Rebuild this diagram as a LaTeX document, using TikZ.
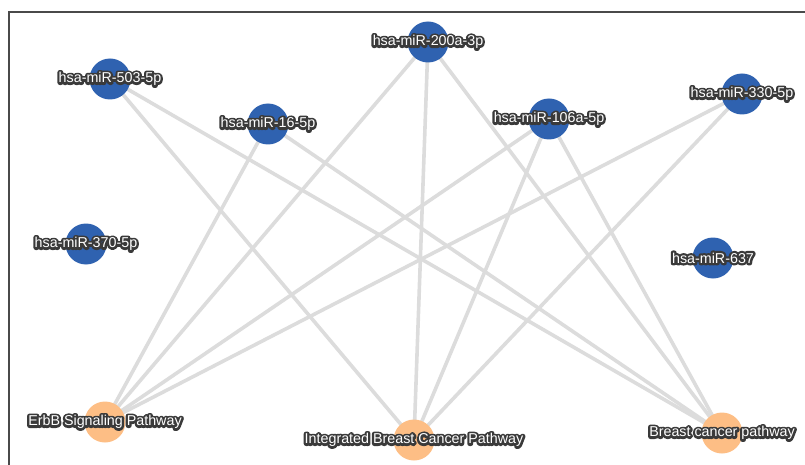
\documentclass[tikz,border=0pt]{standalone}
\usepackage{fontspec}
\setmainfont{Liberation Sans}
\usetikzlibrary{backgrounds}
\definecolor{mirblue}{HTML}{2F62B0}
\definecolor{pathorange}{HTML}{FDBE85}
\definecolor{edgegray}{HTML}{DCDCDC}
\definecolor{halo}{HTML}{3A3A3A}
\definecolor{framegray}{HTML}{4A4A4A}
\newsavebox\halobox
\newcommand\outl[1]{\setbox\halobox\hbox{#1}%
  \rlap{\color{halo}\special{pdf:literal direct 1 Tr 4.6 w 1 j}\copy\halobox\special{pdf:literal direct 0 Tr 1 w 0 j}}%
  {\color{white}\copy\halobox}}
\tikzset{
  mir/.style={circle, fill=mirblue, minimum size=41pt, inner sep=0pt},
  pathnode/.style={circle, fill=pathorange, minimum size=41pt, inner sep=0pt},
  lbl/.style={font=\fontsize{14.3}{16}\selectfont, inner sep=0pt},
  link/.style={draw=edgegray, line width=3.6pt},
  frameline/.style={draw=framegray, line width=1.4pt}
}
\begin{document}
\begin{tikzpicture}[x=1pt,y=-1pt]
\useasboundingbox (0,0) rectangle (805,465);
% nodes
\node[mir] (m200) at (428,42) {};
\node[mir] (m503) at (110,79) {};
\node[mir] (m16)  at (268,124) {};
\node[mir] (m106) at (549,119) {};
\node[mir] (m330) at (742,94) {};
\node[mir] (m370) at (86,244) {};
\node[mir] (m637) at (713,258) {};
\node[pathnode] (erbb) at (105,422) {};
\node[pathnode] (ibc)  at (414,440) {};
\node[pathnode] (bcp)  at (722,433) {};
\begin{scope}[on background layer]
  \coordinate (fbl) at (9,465);
  \coordinate (ftl) at (9,12);
  \coordinate (ftr) at (805,12);
  \draw[frameline] (fbl) -- (ftl) -- (ftr);
  \draw[link] (m503.center) -- (ibc.center);
  \draw[link] (m503.center) -- (bcp.center);
  \draw[link] (m16.center) -- (erbb.center);
  \draw[link] (m16.center) -- (bcp.center);
  \draw[link] (m200.center) -- (erbb.center);
  \draw[link] (m200.center) -- (ibc.center);
  \draw[link] (m200.center) -- (bcp.center);
  \draw[link] (m106.center) -- (erbb.center);
  \draw[link] (m106.center) -- (ibc.center);
  \draw[link] (m106.center) -- (bcp.center);
  \draw[link] (m330.center) -- (erbb.center);
  \draw[link] (m330.center) -- (ibc.center);
\end{scope}
% labels
\node[lbl] (t200) at (m200) {\outl{hsa-miR-200a-3p}};
\node[lbl] (t503) at (m503) {\outl{hsa-miR-503-5p}};
\node[lbl] (t16)  at (m16)  {\outl{hsa-miR-16-5p}};
\node[lbl] (t106) at (m106) {\outl{hsa-miR-106a-5p}};
\node[lbl] (t330) at (m330) {\outl{hsa-miR-330-5p}};
\node[lbl] (t370) at (m370) {\outl{hsa-miR-370-5p}};
\node[lbl] (t637) at (m637) {\outl{hsa-miR-637}};
\node[lbl] (terbb) at (erbb) {\outl{ErbB Signaling Pathway}};
\node[lbl] (tibc)  at (ibc)  {\outl{Integrated Breast Cancer Pathway}};
\node[lbl] (tbcp)  at (bcp)  {\outl{Breast cancer pathway}};
\end{tikzpicture}
\end{document}
